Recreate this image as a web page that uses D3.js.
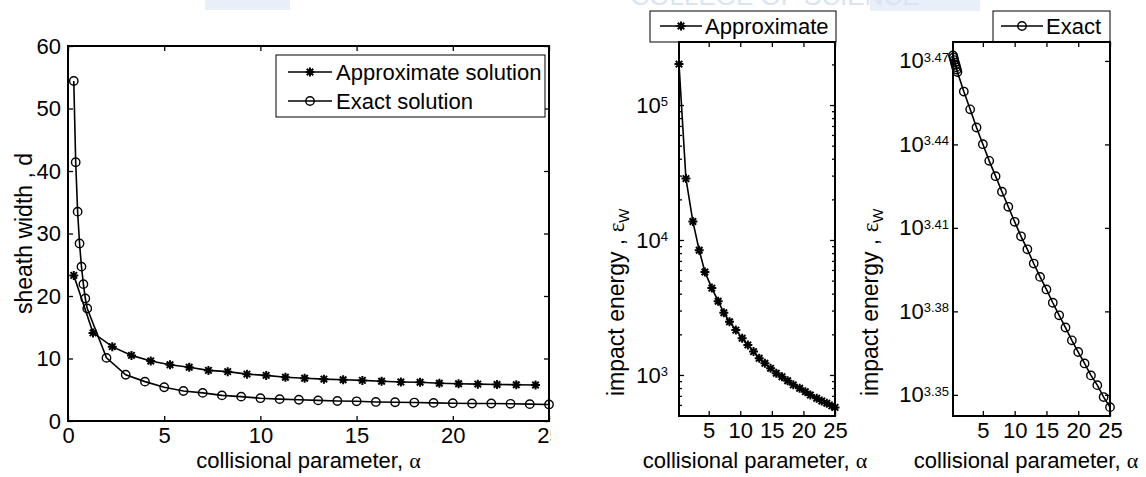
<!DOCTYPE html>
<html>
<head>
<meta charset="utf-8">
<script src="https://cdn.jsdelivr.net/npm/d3@7"></script>
<style>
body { margin: 0; background: #fff; }
svg text { font-family: Arial, "Liberation Sans", sans-serif; fill: #000; }
</style>
</head>
<body>
<div id="chart"></div>
<script>
// ---- data ----
// left panel: sheath width d vs collisional parameter alpha
var exactAlpha = [0.3, 0.4, 0.5, 0.6, 0.7, 0.8, 0.9, 1.0, 2, 3, 4, 5, 6, 7, 8, 9, 10, 11, 12, 13,
                  14, 15, 16, 17, 18, 19, 20, 21, 22, 23, 24, 25];
var exactWidth = [54.4, 41.4, 33.5, 28.4, 24.7, 21.9, 19.6, 18.0, 10.1, 7.4, 6.3, 5.4, 4.8, 4.5, 4.1, 3.9,
                  3.65, 3.5, 3.4, 3.3, 3.2, 3.15, 3.05, 3.0, 2.95, 2.9, 2.85, 2.8, 2.8, 2.75, 2.7, 2.65];
var approxAlpha = [0.3, 1.3, 2.3, 3.3, 4.3, 5.3, 6.3, 7.3, 8.3, 9.3, 10.3, 11.3, 12.3, 13.3, 14.3,
                   15.3, 16.3, 17.3, 18.3, 19.3, 20.3, 21.3, 22.3, 23.3, 24.3];
var approxWidth = [23.3, 14.1, 11.9, 10.5, 9.6, 9.0, 8.6, 8.1, 7.9, 7.5, 7.3, 7.0, 6.85, 6.7, 6.6,
                   6.5, 6.35, 6.25, 6.2, 6.05, 5.95, 5.9, 5.85, 5.8, 5.75];

// middle panel: approximate impact energy (log axis)
var approxAlpha2 = [0.3, 1.4, 2.5, 3.5, 4.4, 5.5, 6.5, 7.4, 8.3, 9.3, 10.3, 11.2, 12.1, 13.0, 13.9,
                    14.8, 15.7, 16.6, 17.5, 18.4, 19.4, 20.3, 21.1, 22.1, 22.9, 23.7, 24.5, 25.0];
var approxEnergy = [201000, 28500, 13700, 8400, 5800, 4400, 3520, 2890, 2480, 2150, 1870, 1670, 1490,
                    1330, 1220, 1120, 1030, 970, 905, 845, 797, 752, 711, 672, 641, 617, 590, 575];

// right panel: exact impact energy (log axis), same alpha as exactAlpha
var exactEnergy = [2964.8, 2959.4, 2953.2, 2947.1, 2941.7, 2935.6, 2930.2, 2924.1, 2877.4, 2835.3,
                   2793.1, 2754.8, 2717.0, 2682.8, 2648.4, 2615.7, 2583.4, 2552.6, 2525.2, 2495.7,
                   2468.3, 2442.8, 2416.0, 2391.1, 2367.0, 2342.0, 2319.5, 2297.7, 2275.1, 2256.8,
                   2234.6, 2216.1];

var xTicks1 = [0, 5, 10, 15, 20, 25];
var yTicks1 = [0, 10, 20, 30, 40, 50, 60];
var xTicksSmall = [5, 10, 15, 20, 25];
var yTicks2 = [1e3, 1e4, 1e5];
var yExp3 = [3.35, 3.38, 3.41, 3.44, 3.47];

var W = 1146, H = 477;

var svg = d3.select("#chart").append("svg")
    .attr("width", W)
    .attr("height", H);

// faint watermark bleeding in at the top of the scan
svg.append("rect").attr("x", 205).attr("y", 0).attr("width", 85).attr("height", 10).attr("fill", "#e8eff8");
svg.append("rect").attr("x", 870).attr("y", 0).attr("width", 110).attr("height", 11).attr("fill", "#e8eff8");
svg.append("text")
    .attr("x", 775).attr("y", 5)
    .attr("text-anchor", "middle")
    .style("font-size", "26px")
    .style("fill", "#d9e4f2")
    .text("COLLEGE OF SCIENCE");

// ---- helpers ----
function starPath(r) {
    var a = r * 0.72;
    return "M0," + (-r) + "V" + r + "M" + (-r) + ",0H" + r +
        "M" + (-a) + "," + (-a) + "L" + a + "," + a + "M" + (-a) + "," + a + "L" + a + "," + (-a);
}

function drawAxes(g, x, y, b, opt) {
    var xa = g.append("g")
        .attr("transform", "translate(0," + b.bottom + ")")
        .call(d3.axisBottom(x).tickValues(opt.xTicks).tickSizeInner(-5).tickSizeOuter(0).tickPadding(6));
    if (opt.xClip) xa.attr("clip-path", "url(#" + opt.xClip + ")");

    g.append("g")
        .attr("transform", "translate(0," + b.top + ")")
        .call(d3.axisTop(x).tickValues(opt.xTicks).tickSizeInner(-5).tickSizeOuter(0).tickFormat(""));

    var ya = g.append("g")
        .attr("transform", "translate(" + b.left + ",0)")
        .call(d3.axisLeft(y).tickValues(opt.yTicks).tickSizeInner(-5).tickSizeOuter(0)
            .tickPadding(opt.yPad).tickFormat(opt.yFormat || null));

    g.append("g")
        .attr("transform", "translate(" + b.right + ",0)")
        .call(d3.axisRight(y).tickValues(opt.yTicks).tickSizeInner(-5).tickSizeOuter(0).tickFormat(""));

    if (opt.yMinor) {
        g.append("g")
            .attr("transform", "translate(" + b.left + ",0)")
            .call(d3.axisLeft(y).tickValues(opt.yMinor).tickSizeInner(-3).tickSizeOuter(0).tickFormat(""));
        g.append("g")
            .attr("transform", "translate(" + b.right + ",0)")
            .call(d3.axisRight(y).tickValues(opt.yMinor).tickSizeInner(-3).tickSizeOuter(0).tickFormat(""));
    }

    g.selectAll(".domain").remove();
    g.selectAll(".tick line").attr("stroke", "#000").attr("stroke-width", 1.3);
    g.selectAll(".tick text").style("font-size", "22px").style("font-family", "Arial, 'Liberation Sans', sans-serif");

    // power-of-ten labels with superscripts
    if (opt.powLabel) {
        ya.selectAll(".tick text").each(function (d) {
            var t = d3.select(this).text("");
            t.append("tspan").text("10");
            t.append("tspan").attr("dy", "-0.5em").style("font-size", "13px").text(opt.powLabel(d));
        });
    }

    g.append("rect")
        .attr("x", b.left).attr("y", b.top)
        .attr("width", b.right - b.left).attr("height", b.bottom - b.top)
        .attr("fill", "none").attr("stroke", "#000").attr("stroke-width", 2);
}

function xLabel(g, cx) {
    var t = g.append("text")
        .attr("x", cx).attr("y", 468)
        .attr("text-anchor", "middle")
        .style("font-size", "22px");
    t.append("tspan").text("collisional parameter, ");
    t.append("tspan").style("font-family", "'Liberation Serif', 'DejaVu Serif', serif").text("\u03b1");
}

function energyLabel(g, bx, by) {
    var t = g.append("text")
        .attr("transform", "translate(" + bx + "," + by + ") rotate(-90)")
        .attr("text-anchor", "start")
        .style("font-size", "23px");
    t.append("tspan").text("impact energy , ");
    t.append("tspan").style("font-family", "'Liberation Serif', 'DejaVu Serif', serif").text("\u03b5");
    t.append("tspan").attr("dy", 5).style("font-size", "15px").text("W");
}

function drawStars(g, pts) {
    g.selectAll(".star").data(pts).enter().append("path")
        .attr("class", "star")
        .attr("transform", function (d) { return "translate(" + d[0] + "," + d[1] + ")"; })
        .attr("d", starPath(4.5)).attr("stroke", "#000").attr("stroke-width", 2).attr("fill", "none");
}

function drawCircles(g, pts) {
    g.selectAll(".circ").data(pts).enter().append("circle")
        .attr("class", "circ")
        .attr("cx", function (d) { return d[0]; })
        .attr("cy", function (d) { return d[1]; })
        .attr("r", 4.2).attr("fill", "none").attr("stroke", "#000").attr("stroke-width", 1.4);
}

var line = d3.line();

// ---- left panel ----
var b1 = { left: 68, right: 549, top: 46, bottom: 421 };
var x1 = d3.scaleLinear().domain([0, 25]).range([b1.left, b1.right]);
var y1 = d3.scaleLinear().domain([0, 60]).range([b1.bottom, b1.top]);
var g1 = svg.append("g");

svg.append("clipPath").attr("id", "clip25")
    .append("rect").attr("x", -20).attr("y", -10).attr("width", 571).attr("height", 60);

drawAxes(g1, x1, y1, b1, { xTicks: xTicks1, yTicks: yTicks1, yPad: 7, xClip: "clip25" });

var approx1 = approxAlpha.map(function (a, i) { return [x1(a), y1(approxWidth[i])]; });
var exact1 = exactAlpha.map(function (a, i) { return [x1(a), y1(exactWidth[i])]; });

g1.append("path").attr("d", line(approx1)).attr("fill", "none").attr("stroke", "#000").attr("stroke-width", 1.6);
g1.append("path").attr("d", line(exact1)).attr("fill", "none").attr("stroke", "#000").attr("stroke-width", 1.6);
drawStars(g1, approx1);
drawCircles(g1, exact1);

g1.append("text")
    .attr("transform", "translate(32," + ((b1.top + b1.bottom) / 2) + ") rotate(-90)")
    .attr("text-anchor", "middle")
    .style("font-size", "23px")
    .text("sheath width , d");
xLabel(g1, (b1.left + b1.right) / 2);

// legend
var lg1 = g1.append("g");
lg1.append("rect").attr("x", 276).attr("y", 55).attr("width", 269).attr("height", 62)
    .attr("fill", "#fff").attr("stroke", "#000").attr("stroke-width", 1);
[["Approximate solution", 72, "star"], ["Exact solution", 101, "circ"]].forEach(function (r) {
    lg1.append("line").attr("x1", 288).attr("x2", 332).attr("y1", r[1]).attr("y2", r[1])
        .attr("stroke", "#000").attr("stroke-width", 1.6);
    if (r[2] === "star") drawStars(lg1.append("g"), [[310, r[1]]]);
    else drawCircles(lg1.append("g"), [[310, r[1]]]);
    lg1.append("text").attr("x", 336).attr("y", r[1]).attr("dy", "0.36em")
        .style("font-size", "22px").text(r[0]);
});

// ---- middle panel ----
var b2 = { left: 679, right: 835, top: 42, bottom: 416 };
var x2 = d3.scaleLinear().domain([0.3, 25]).range([b2.left, b2.right]);
var y2 = d3.scaleLog().domain([496.6, 293100]).range([b2.bottom, b2.top]);
var g2 = svg.append("g");

// legend box sits above the axes
g2.append("rect").attr("x", 650).attr("y", 11).attr("width", 186).attr("height", 31)
    .attr("fill", "#fff").attr("stroke", "#000").attr("stroke-width", 1);
g2.append("line").attr("x1", 660).attr("x2", 702).attr("y1", 26).attr("y2", 26)
    .attr("stroke", "#000").attr("stroke-width", 1.6);
drawStars(g2.append("g"), [[681, 26]]);
g2.append("text").attr("x", 705).attr("y", 26).attr("dy", "0.36em").style("font-size", "22px").text("Approximate");

var minor2 = y2.ticks().filter(function (v) { return yTicks2.indexOf(v) < 0; });
drawAxes(g2, x2, y2, b2, {
    xTicks: xTicksSmall, yTicks: yTicks2, yPad: 11, yMinor: minor2,
    powLabel: function (d) { return Math.round(Math.log10(d)); }
});

var approx2 = approxAlpha2.map(function (a, i) { return [x2(a), y2(approxEnergy[i])]; });
g2.append("path").attr("d", line(approx2)).attr("fill", "none").attr("stroke", "#000").attr("stroke-width", 1.6);
drawStars(g2.append("g"), approx2);

energyLabel(g2, 624, 396);
xLabel(g2, (b2.left + b2.right) / 2 - 2);

// ---- right panel ----
var b3 = { left: 953, right: 1110, top: 42, bottom: 416 };
var x3 = d3.scaleLinear().domain([0.3, 25]).range([b3.left, b3.right]);
var y3 = d3.scaleLog().domain([2199.9, 2997.8]).range([b3.bottom, b3.top]);
var g3 = svg.append("g");

g3.append("rect").attr("x", 993).attr("y", 11).attr("width", 117).attr("height", 31)
    .attr("fill", "#fff").attr("stroke", "#000").attr("stroke-width", 1);
g3.append("line").attr("x1", 1001).attr("x2", 1043).attr("y1", 26).attr("y2", 26)
    .attr("stroke", "#000").attr("stroke-width", 1.6);
drawCircles(g3.append("g"), [[1022, 26]]);
g3.append("text").attr("x", 1046).attr("y", 26).attr("dy", "0.36em").style("font-size", "22px").text("Exact");

drawAxes(g3, x3, y3, b3, {
    xTicks: xTicksSmall,
    yTicks: yExp3.map(function (e) { return Math.pow(10, e); }),
    yPad: 4,
    powLabel: function (d) { return d3.format(".2f")(Math.log10(d)); }
});

var exact3 = exactAlpha.map(function (a, i) { return [x3(a), y3(exactEnergy[i])]; });
g3.append("path").attr("d", line(exact3)).attr("fill", "none").attr("stroke", "#000").attr("stroke-width", 1.6);
drawCircles(g3.append("g"), exact3);

energyLabel(g3, 878, 396);
xLabel(g3, 1026);
</script>
</body>
</html>
